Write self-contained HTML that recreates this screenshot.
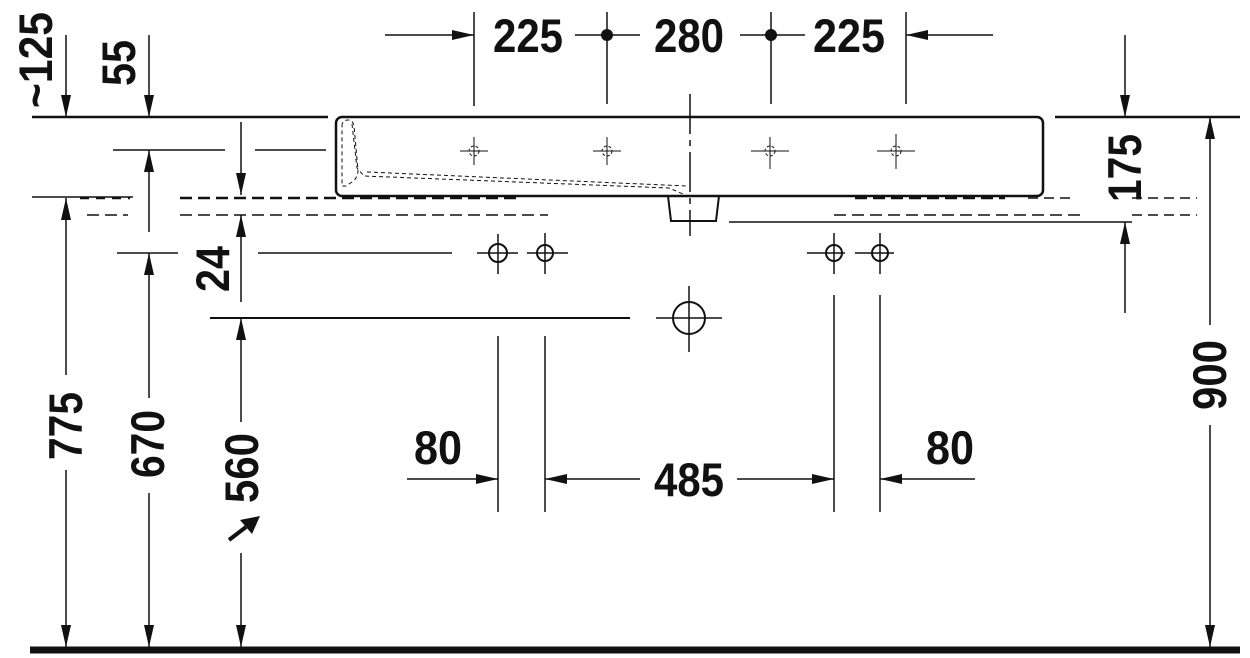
<!DOCTYPE html>
<html><head><meta charset="utf-8"><style>html,body{margin:0;padding:0;background:#fff}svg{display:block}
text{font-family:"Liberation Sans",sans-serif;font-weight:bold;font-size:47px;fill:#111}</style></head>
<body>
<svg width="1250" height="658" viewBox="0 0 1250 658" xmlns="http://www.w3.org/2000/svg">
<defs>
<marker id="a" viewBox="0 0 22 10" refX="22" refY="5" markerWidth="22" markerHeight="10" markerUnits="userSpaceOnUse" orient="auto-start-reverse"><path d="M0,0 L22,5 L0,10 Z" fill="#111"/></marker>
</defs>
<g stroke="#111" fill="none" stroke-width="1.5">
<line x1="385" y1="35" x2="474" y2="35" marker-end="url(#a)"/>
<line x1="575" y1="35" x2="640" y2="35"/>
<line x1="740" y1="35" x2="805" y2="35"/>
<line x1="993" y1="35" x2="906" y2="35" marker-end="url(#a)"/>
<line x1="474" y1="12" x2="474" y2="106"/>
<line x1="607" y1="12" x2="607" y2="104"/>
<line x1="771" y1="12" x2="771" y2="104"/>
<line x1="906" y1="12" x2="906" y2="104"/>
<line x1="690" y1="94" x2="690" y2="236" stroke-dasharray="40,6,6,6"/>
<line x1="32" y1="117" x2="328" y2="117" stroke-width="2.5"/>
<line x1="1055" y1="117" x2="1240" y2="117" stroke-width="2.5"/>
<rect x="336" y="117" width="707" height="79" rx="6" stroke-width="2.5"/>
<path d="M342,126 q0,-6 6,-6 q5,0 6,6 l4,44 q0,8 -6,12 l-6,4 h-4 z" stroke-width="1" stroke-dasharray="4,3"/>
<path d="M352,124 l5,44 l7,8 l305,12 l14,6" stroke-width="1" stroke-dasharray="4,3"/>
<path d="M367,172 l320,14" stroke-width="1" stroke-dasharray="4,3"/>
<path d="M668,196 l3,25 h45 l3,-25" stroke-width="2"/>
<g stroke-width="1">
<line x1="460" y1="151" x2="488" y2="151"/><line x1="474" y1="137" x2="474" y2="165"/><circle cx="474" cy="151" r="5" stroke-dasharray="3,2"/>
<line x1="593" y1="151" x2="621" y2="151"/><line x1="607" y1="137" x2="607" y2="165"/><circle cx="607" cy="151" r="5" stroke-dasharray="3,2"/>
<line x1="751" y1="151" x2="789" y2="151"/><line x1="770" y1="137" x2="770" y2="169"/><circle cx="770" cy="151" r="5" stroke-dasharray="3,2"/>
<line x1="877" y1="151" x2="915" y2="151"/><line x1="896" y1="134" x2="896" y2="169"/><circle cx="896" cy="151" r="5" stroke-dasharray="3,2"/>
</g>
<line x1="113" y1="150" x2="225" y2="150"/>
<line x1="255" y1="150" x2="326" y2="150"/>
<line x1="32" y1="197" x2="133" y2="197"/>
<line x1="80" y1="198" x2="130" y2="198" stroke-width="2.5" stroke-dasharray="9,7"/>
<line x1="180" y1="198" x2="522" y2="198" stroke-width="2.5" stroke-dasharray="12,6"/>
<line x1="855" y1="198" x2="1005" y2="198" stroke-width="2.5" stroke-dasharray="12,6"/>
<line x1="1028" y1="198" x2="1070" y2="198" stroke-dasharray="10,6"/>
<line x1="1132" y1="198" x2="1197" y2="198" stroke-dasharray="10,6"/>
<line x1="87" y1="215" x2="128" y2="215" stroke-dasharray="12,6"/>
<line x1="180" y1="215" x2="548" y2="215" stroke-dasharray="12,6"/>
<line x1="834" y1="215" x2="1080" y2="215" stroke-dasharray="12,6"/>
<line x1="1132" y1="215" x2="1197" y2="215" stroke-dasharray="10,6"/>
<line x1="729" y1="222" x2="1132" y2="222"/>
<line x1="117" y1="253" x2="178" y2="253"/>
<line x1="258" y1="253" x2="452" y2="253"/>
<g stroke-width="2">
<circle cx="498" cy="253" r="9"/><circle cx="545" cy="253" r="8"/><circle cx="834" cy="253" r="8"/><circle cx="880" cy="253" r="8"/>
</g>
<line x1="477" y1="253" x2="518" y2="253"/><line x1="498" y1="234" x2="498" y2="274"/>
<line x1="527" y1="253" x2="568" y2="253"/><line x1="545" y1="233" x2="545" y2="274"/>
<line x1="807" y1="253" x2="845" y2="253"/><line x1="834" y1="233" x2="834" y2="274"/>
<line x1="855" y1="253" x2="894" y2="253"/><line x1="880" y1="233" x2="880" y2="274"/>
<line x1="210" y1="318" x2="630" y2="318" stroke-width="2"/>
<circle cx="689" cy="318" r="16" stroke-width="2"/>
<line x1="656" y1="318" x2="722" y2="318"/><line x1="689" y1="286" x2="689" y2="352"/>
<line x1="498" y1="336" x2="498" y2="512"/>
<line x1="545" y1="336" x2="545" y2="512"/>
<line x1="834" y1="295" x2="834" y2="512"/>
<line x1="880" y1="295" x2="880" y2="512"/>
<line x1="407" y1="479" x2="498" y2="479" marker-end="url(#a)"/>
<line x1="640" y1="479" x2="545" y2="479" marker-end="url(#a)"/>
<line x1="737" y1="479" x2="834" y2="479" marker-end="url(#a)"/>
<line x1="975" y1="479" x2="880" y2="479" marker-end="url(#a)"/>
<line x1="66" y1="35" x2="66" y2="117" marker-end="url(#a)"/>
<line x1="149" y1="35" x2="149" y2="117" marker-end="url(#a)"/>
<line x1="241" y1="122" x2="241" y2="195" marker-end="url(#a)"/>
<line x1="149" y1="232" x2="149" y2="150" marker-end="url(#a)"/>
<line x1="241" y1="302" x2="241" y2="215" marker-end="url(#a)"/>
<line x1="66" y1="375" x2="66" y2="198" marker-end="url(#a)"/>
<line x1="66" y1="470" x2="66" y2="647" marker-end="url(#a)"/>
<line x1="149" y1="398" x2="149" y2="253" marker-end="url(#a)"/>
<line x1="149" y1="493" x2="149" y2="647" marker-end="url(#a)"/>
<line x1="241" y1="422" x2="241" y2="318" marker-end="url(#a)"/>
<line x1="241" y1="553" x2="241" y2="647" marker-end="url(#a)"/>
<line x1="229" y1="540" x2="246" y2="527" stroke-width="4"/>
<line x1="1125" y1="35" x2="1125" y2="117" marker-end="url(#a)"/>
<line x1="1125" y1="313" x2="1125" y2="222" marker-end="url(#a)"/>
<line x1="1210" y1="325" x2="1210" y2="117" marker-end="url(#a)"/>
<line x1="1210" y1="425" x2="1210" y2="647" marker-end="url(#a)"/>
<line x1="30" y1="650" x2="1240" y2="650" stroke-width="7"/>
</g>
<g fill="#111">
<circle cx="607" cy="35" r="6"/><circle cx="771" cy="35" r="6"/>
<polygon points="260,516 252,534 240,520"/>
</g>
<text x="493" y="52" textLength="70" lengthAdjust="spacingAndGlyphs">225</text>
<text x="654" y="52" textLength="70" lengthAdjust="spacingAndGlyphs">280</text>
<text x="813" y="52" textLength="72" lengthAdjust="spacingAndGlyphs">225</text>
<text x="414" y="464" textLength="48" lengthAdjust="spacingAndGlyphs">80</text>
<text x="926" y="464" textLength="48" lengthAdjust="spacingAndGlyphs">80</text>
<text x="654" y="496" textLength="70" lengthAdjust="spacingAndGlyphs">485</text>
<text transform="translate(82,460) rotate(-90)" textLength="68" lengthAdjust="spacingAndGlyphs">775</text>
<text transform="translate(164,478) rotate(-90)" textLength="68" lengthAdjust="spacingAndGlyphs">670</text>
<text transform="translate(258,503) rotate(-90)" textLength="70" lengthAdjust="spacingAndGlyphs">560</text>
<text transform="translate(229,292) rotate(-90)" textLength="46" lengthAdjust="spacingAndGlyphs">24</text>
<text transform="translate(135,86) rotate(-90)" textLength="46" lengthAdjust="spacingAndGlyphs">55</text>
<text transform="translate(52,108) rotate(-90)" textLength="96" lengthAdjust="spacingAndGlyphs">~125</text>
<text transform="translate(1141,202) rotate(-90)" textLength="68" lengthAdjust="spacingAndGlyphs">175</text>
<text transform="translate(1226,410) rotate(-90)" textLength="70" lengthAdjust="spacingAndGlyphs">900</text>
</svg>
</body></html>
